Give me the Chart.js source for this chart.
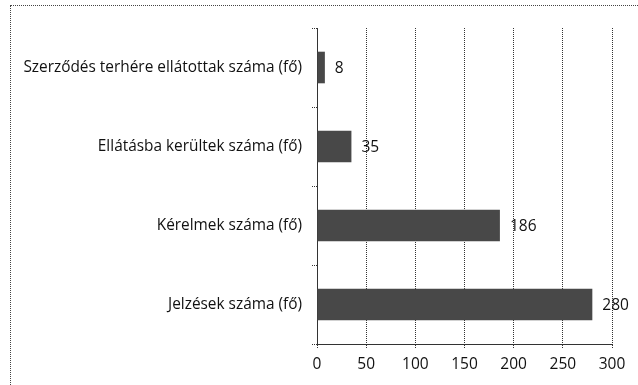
<!DOCTYPE html>
<html>
<head>
<meta charset="utf-8">
<script src="https://cdn.jsdelivr.net/npm/chart.js@4/dist/chart.umd.min.js"></script>
<style>
    body { margin: 0; background: #fff; overflow: hidden; }
    #frame {
        position: absolute; left: 10px; top: 5px;
        width: 700px; height: 450px;
        border: 1px dotted #444;
    }
    #chart { position: absolute; left: 0; top: 0; }
</style>
</head>
<body>
<div id="frame"></div>
<canvas id="chart" width="638" height="385"></canvas>
<script>
const categories = [
    'Szerződés terhére ellátottak száma (fő)',
    'Ellátásba kerültek száma (fő)',
    'Kérelmek száma (fő)',
    'Jelzések száma (fő)'
];
const values = [8, 35, 186, 280];
const xTicks = [0, 50, 100, 150, 200, 250, 300];

const FONT = '"Open Sans", Lato, sans-serif';

// prints each bar's value just past its end
const valueLabels = {
    id: 'valueLabels',
    afterDatasetsDraw(chart) {
        const ctx = chart.ctx;
        const meta = chart.getDatasetMeta(0);
        ctx.save();
        ctx.font = '15.5px ' + FONT;
        ctx.fillStyle = '#111';
        ctx.textAlign = 'left';
        ctx.textBaseline = 'middle';
        meta.data.forEach((bar, i) => {
            ctx.fillText(String(values[i]), bar.x + 10, bar.y + 1);
        });
        ctx.restore();
    }
};

new Chart(document.getElementById('chart'), {
    type: 'bar',
    data: {
        labels: categories,
        datasets: [{
            data: values,
            backgroundColor: '#484848',
            borderWidth: 0,
            barPercentage: 0.4,
            categoryPercentage: 1
        }]
    },
    options: {
        indexAxis: 'y',
        responsive: false,
        animation: false,
        events: [],
        layout: { padding: { top: 28, right: 26, left: 0, bottom: 0 } },
        plugins: { legend: { display: false }, tooltip: { enabled: false } },
        scales: {
            x: {
                min: 0, max: 300,
                afterBuildTicks: s => { s.ticks = xTicks.map(v => ({ value: v })); },
                afterFit: s => { s.height = 41; },
                grid: {
                    color: '#333',
                    tickLength: 5,
                    tickBorderDash: [1, 1],
                    borderDash: [1, 1]
                },
                border: { color: '#333', dash: [1, 1] },
                ticks: {
                    color: '#111',
                    font: { family: FONT, size: 15.5 },
                    padding: 6
                }
            },
            y: {
                afterFit: s => { s.width = 317; },
                grid: {
                    drawOnChartArea: false,
                    color: '#333',
                    tickLength: 5,
                    tickBorderDash: [1, 1],
                    offset: true
                },
                border: { color: '#333', dash: [1, 1] },
                ticks: {
                    color: '#111',
                    font: { family: FONT, size: 15.4 },
                    padding: 10
                }
            }
        }
    },
    plugins: [valueLabels]
});
</script>
</body>
</html>
